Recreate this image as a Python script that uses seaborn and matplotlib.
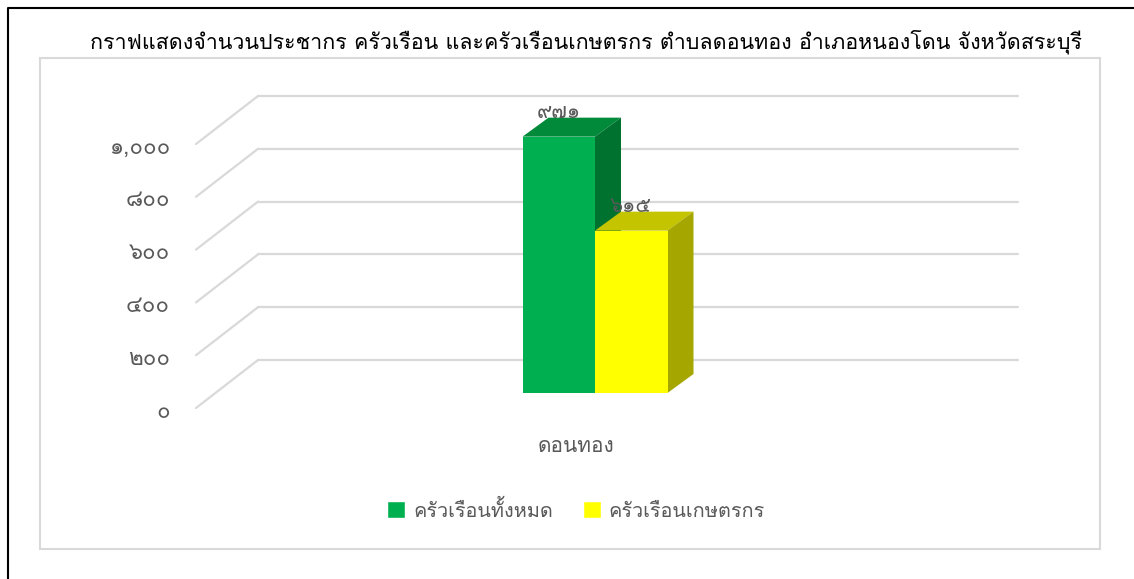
import matplotlib
matplotlib.use("Agg")
import matplotlib.pyplot as plt
import matplotlib.transforms as mtransforms
from matplotlib import font_manager
from matplotlib.ft2font import FT2Font
from matplotlib.patches import Polygon, Rectangle
import seaborn as sns
import pandas as pd

# data
categories = ["ดอนทอง"]
series = ["ครัวเรือนทั้งหมด", "ครัวเรือนเกษตรกร"]
values = [971, 615]
value_labels = ["๙๗๑", "๖๑๕"]
y_ticks = [0, 200, 400, 600, 800, 1000]
y_tick_labels = ["๐", "๒๐๐", "๔๐๐", "๖๐๐", "๘๐๐", "๑,๐๐๐"]
title = "กราฟแสดงจำนวนประชากร ครัวเรือน และครัวเรือนเกษตรกร ตำบลดอนทอง อำเภอหนองโดน จังหวัดสระบุรี"

front_colors = ["#00B050", "#FFFF00"]
top_colors = ["#008A3A", "#C4C400"]
side_colors = ["#00722F", "#A6A600"]
text_color = "#595959"
grid_color = "#D9D9D9"


def find_thai_font():
    seen = set()
    for f in font_manager.fontManager.ttflist:
        if f.name in seen:
            continue
        seen.add(f.name)
        try:
            if 0x0E01 in FT2Font(f.fname).get_charmap():
                return f.name
        except Exception:
            pass
    return None


sns.set_style("white")
thai = find_thai_font()
plt.rcParams["font.family"] = [thai, "DejaVu Sans"] if thai else ["DejaVu Sans"]

W, H = 1134, 579
DPI = 100
fig = plt.figure(figsize=(W / DPI, H / DPI), dpi=DPI)


# pixel helper for figure coords
def px(x, y):
    return x / W, 1 - y / H


# outer black frame (only top and left show) and inner grey chart box
fig.add_artist(plt.Line2D([8 / W, 8 / W, 1], [0, 1 - 8 / H, 1 - 8 / H],
                          transform=fig.transFigure, color="black", lw=1.5))
fig.add_artist(Rectangle(px(40, 549), 1060 / W, 491 / H, transform=fig.transFigure,
                         fill=False, edgecolor=grid_color, lw=1.5))

# axes = the front plane of the bars
left, right, zero_y, top_y = 215, 975, 393, 129
ax = fig.add_axes([left / W, (H - zero_y) / H, (right - left) / W, (zero_y - top_y) / H])
ax.set_ylim(0, 1000)
xspan = (right - left) / (145 / 0.8) / 2
ax.set_xlim(-xspan, xspan)
ax.axis("off")


def shift(dx, dy):
    # offset in pixels (dy positive = up)
    return ax.transData + mtransforms.ScaledTranslation(dx / DPI, dy / DPI, fig.dpi_scale_trans)


back = (43, 33)
front = (-19, -15)
depth = (26, 19)

# grid on floor + back wall
x0, x1 = ax.get_xlim()
for v in y_ticks:
    ax.plot([x0, x1], [v, v], transform=shift(*back), color=grid_color, lw=1.6,
            clip_on=False, zorder=0)
    p0 = shift(*front).transform((x0, v))
    p1 = shift(*back).transform((x0, v))
    fig.add_artist(plt.Line2D([p0[0] / W, p1[0] / W], [p0[1] / H, p1[1] / H],
                              transform=fig.transFigure, color=grid_color, lw=1.6, zorder=0))
for v, lab in zip(y_ticks, y_tick_labels):
    ax.text(x0, v, lab, transform=shift(-45, -19), ha="right", va="center",
            fontsize=16, color=text_color, clip_on=False)

df = pd.DataFrame({"cat": categories * len(series), "series": series, "value": values})
sns.barplot(data=df, x="cat", y="value", hue="series", palette=front_colors,
            width=0.8, saturation=1, linewidth=0, ax=ax, legend=False, zorder=3)
ax.set_xlim(-xspan, xspan)
ax.set_ylim(0, 1000)

# depth faces
inv = ax.transData.inverted()
for i, patch in enumerate(list(ax.patches)):
    x = patch.get_x()
    w = patch.get_width()
    h = patch.get_height()
    dt = shift(*depth)
    pf = [ax.transData.transform(p) for p in [(x, h), (x + w, h), (x + w, 0)]]
    pb = [dt.transform(p) for p in [(x, h), (x + w, h), (x + w, 0)]]
    top = [inv.transform(p) for p in [pf[0], pf[1], pb[1], pb[0]]]
    side = [inv.transform(p) for p in [pf[1], pf[2], pb[2], pb[1]]]
    ax.add_patch(Polygon(top, closed=True, facecolor=top_colors[i], edgecolor="none",
                         clip_on=False, zorder=2))
    ax.add_patch(Polygon(side, closed=True, facecolor=side_colors[i], edgecolor="none",
                         clip_on=False, zorder=2))
    ax.text(x + w / 2, h, value_labels[i], transform=shift(0, 24), ha="center", va="center",
            fontsize=15, color=text_color, zorder=5, clip_on=False)

# category label
ax.text(0, 0, categories[0], transform=shift(-19, -53), ha="center", va="center",
        fontsize=15, color=text_color, clip_on=False)

# title
fig.text(*px(586, 42), title, ha="center", va="center", fontsize=15.45, color="black")

# legend
handles = [Rectangle((0, 0), 1, 1, facecolor=c) for c in front_colors]
fig.legend(handles, series, loc="center", bbox_to_anchor=px(576, 510), ncol=2, frameon=False,
           fontsize=14.3, labelcolor=text_color, handlelength=0.9, handleheight=0.9,
           columnspacing=1.5, handletextpad=0.4)

fig.savefig("out.png", dpi=DPI)
